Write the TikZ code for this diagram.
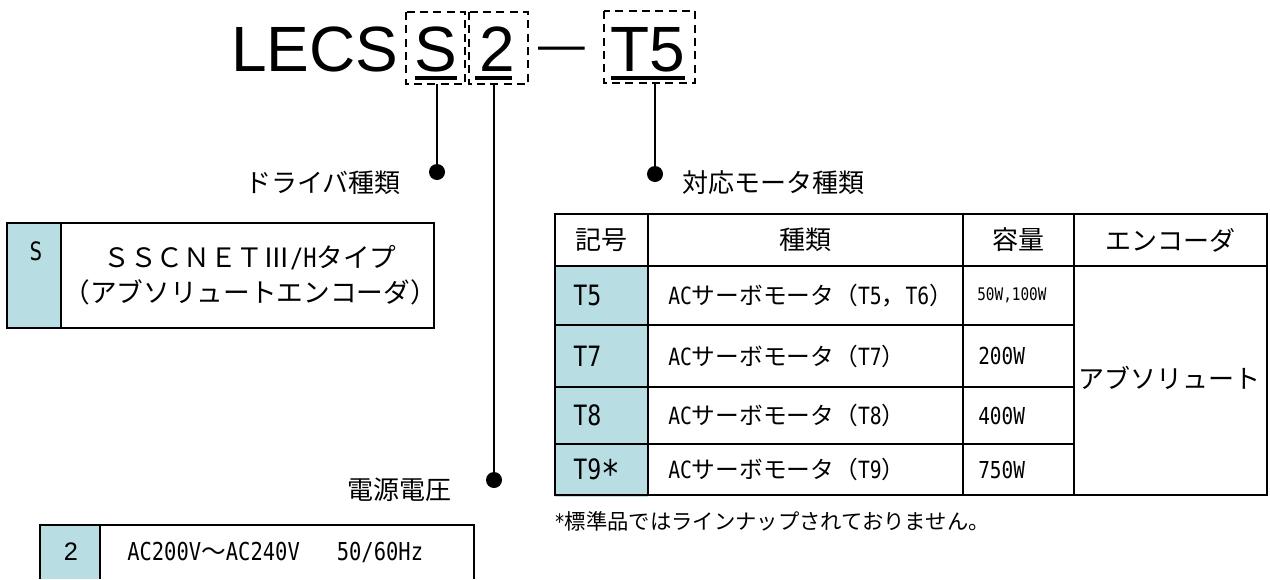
\documentclass[tikz,border=0pt]{standalone}
\usepackage{fontspec}
\setmainfont{Noto Sans CJK JP}
\newfontfamily\arialfont{Liberation Sans}
\newfontfamily\hwfont[FakeStretch=0.83]{DejaVu Sans Mono}
\newcommand\hw[1]{{\hwfont #1}}
\definecolor{cellblue}{RGB}{184,222,227}

\begin{document}
\begin{tikzpicture}[x=0.75pt, y=-0.75pt,
  titlefont/.style={font=\arialfont\fontsize{48}{48}\selectfont, inner sep=0pt},
  dbox/.style={line width=1.5pt, dash pattern=on 6pt off 4pt},
  uline/.style={line width=3pt},
  lead/.style={line width=1.8pt},
  jlabel/.style={font=\fontsize{19.5}{26}\selectfont, inner sep=0pt},
  cell/.style={font=\fontsize{17.8}{20}\selectfont, inner sep=0pt},
  code/.style={font=\hwfont\fontsize{21}{21}\selectfont, inner sep=0pt, anchor=west},
  grid/.style={line width=1.5pt}]
  \useasboundingbox (0,0) rectangle (1270,579);
  \clip (0,0) rectangle (1270,579);

  % 型式
  \node[titlefont, anchor=base west] (lecs) at (231,71) {LECS};
  \node[titlefont, anchor=base] (codeS) at (436,71) {S};
  \node[titlefont, anchor=base] (code2) at (497,71) {2};
  \node[font=\arialfont\fontsize{35}{35}\selectfont, inner sep=0pt, anchor=base] (bar) at (562,60) {—};
  \node[titlefont, anchor=base] (codeT) at (648,71) {T5};

  % 点線の枠
  \draw[dbox] (406,12) rectangle (465,84);
  \draw[dbox] (469,12) rectangle (528,84);
  \draw[dbox] (604,11) rectangle (695,83);

  % 下線
  \draw[uline] (415,78) -- (457,78);
  \draw[uline] (475,78) -- (512,78);
  \draw[uline] (611,78) -- (685,78);

  % 引出線と点
  \coordinate (topS) at (437,84);
  \coordinate (dotS) at (437,172);
  \coordinate (top2) at (494,84);
  \coordinate (dot2) at (494,480);
  \coordinate (topT) at (655,83);
  \coordinate (dotT) at (655,174);
  \draw[lead] (topS) -- (dotS);
  \draw[lead] (top2) -- (dot2);
  \draw[lead] (topT) -- (dotT);
  \foreach \d in {dotS,dot2,dotT} {
    \fill (\d) circle[radius=6pt];
  }

  % 見出し
  \node[jlabel, anchor=east] (labS) at (401,183) {ドライバ種類};
  \node[jlabel, anchor=west] (labT) at (682,183) {対応モータ種類};
  \node[jlabel, anchor=east] (lab2) at (452,490) {電源電圧};

  % ドライバ種類の表
  \fill[cellblue] (7,223) rectangle (61,328);
  \draw[grid] (7,223) rectangle (434,328);
  \draw[grid] (61,223) -- (61,328);
  \node[font=\hwfont\fontsize{19}{19}\selectfont, inner sep=0pt] (symS) at (36,251) {S};
  \node[jlabel, font=\fontsize{20}{26}\selectfont, align=center] (descS) at (250,275)
    {ＳＳＣＮＥＴⅢ\hw{/H}タイプ\\（アブソリュートエンコーダ）};

  % 電源電圧の表
  \fill[cellblue] (40,525) rectangle (100,579);
  \draw[grid] (40,579) -- (40,525) -- (474,525) -- (474,579);
  \draw[grid] (100,525) -- (100,579);
  \node[font=\arialfont\fontsize{19}{19}\selectfont, inner sep=0pt] (sym2) at (71,552) {2};
  \node[cell, font=\fontsize{18.5}{20}\selectfont, anchor=west] (desc2) at (127,552)
    {\hw{AC200V}～\hw{AC240V}　\hw{ }\hw{50/60Hz}};

  % 対応モータ種類の表
  \fill[cellblue] (555,266) rectangle (648,497);
  \draw[grid] (555,214) rectangle (1267,495);
  \draw[grid] (555,266) -- (1267,266);
  \foreach \y in {325,387,444} {
    \draw[grid] (555,\y) -- (1074,\y);
  }
  \foreach \x in {648,963,1074} {
    \draw[grid] (\x,214) -- (\x,495);
  }
  \node[jlabel] (hSym) at (601.5,240) {記号};
  \node[jlabel] (hKind) at (805.5,240) {種類};
  \node[jlabel] (hCap) at (1018.5,240) {容量};
  \node[jlabel] (hEnc) at (1170.5,240) {エンコーダ};

  \node[code] (symT5) at (573,295.5) {T5};
  \node[code] (symT7) at (573,356) {T7};
  \node[code] (symT8) at (573,415.5) {T8};
  \node[code] (symT9) at (573,469.5) {T9{\fontsize{28}{28}\selectfont∗}};

  \node[cell, anchor=west] (kindT5) at (668,295.5) {\hw{AC}サーボモータ（\hw{T5}，\hw{T6}）};
  \node[cell, anchor=west] (kindT7) at (668,356) {\hw{AC}サーボモータ（\hw{T7}）};
  \node[cell, anchor=west] (kindT8) at (668,415.5) {\hw{AC}サーボモータ（\hw{T8}）};
  \node[cell, anchor=west] (kindT9) at (668,469.5) {\hw{AC}サーボモータ（\hw{T9}）};

  \node[font=\hwfont\fontsize{13}{13}\selectfont, inner sep=0pt, anchor=west] (capT5) at (977,295.5) {50W,100W};
  \node[cell, font=\hwfont\fontsize{17.5}{17.5}\selectfont, anchor=west] (capT7) at (978,356) {200W};
  \node[cell, font=\hwfont\fontsize{17.5}{17.5}\selectfont, anchor=west] (capT8) at (978,415.5) {400W};
  \node[cell, font=\hwfont\fontsize{17.5}{17.5}\selectfont, anchor=west] (capT9) at (978,469.5) {750W};

  \node[jlabel, anchor=west] (enc) at (1078,378) {アブソリュート};

  % 注記
  \node[font=\fontsize{16}{18}\selectfont, inner sep=0pt, anchor=west] (note) at (554,521)
    {\hw{*}標準品ではラインナップされておりません。};
\end{tikzpicture}
\end{document}
